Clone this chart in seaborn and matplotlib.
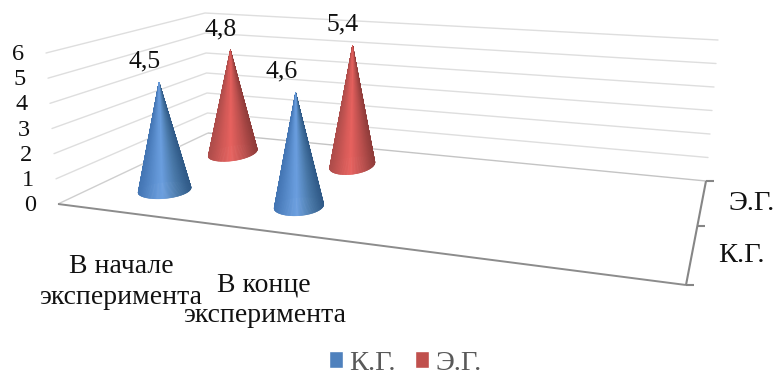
import numpy as np
import pandas as pd
import matplotlib
matplotlib.use("Agg")
import matplotlib.pyplot as plt
from matplotlib.collections import PolyCollection
from matplotlib.colors import LinearSegmentedColormap
from matplotlib.patches import Patch
import seaborn as sns

categories = ["В начале\nэксперимента", "В конце\nэксперимента"]
series_names = ["К.Г.", "Э.Г."]
control_scores = [4.5, 4.6]
experimental_scores = [4.8, 5.4]
value_ticks = [0, 1, 2, 3, 4, 5, 6]

sns.set_theme(style="white")
plt.rcParams["font.family"] = ["Liberation Serif", "DejaVu Serif"]

# Box of the 3D scene in figure pixels: (category, depth) corners at floor and ceiling.
FLOOR = {"fl": (58, 204), "fr": (686, 285), "bl": (208, 133), "br": (706, 181)}
CEIL = {"fl": (46, 53), "fr": (688, 115), "bl": (205, 13), "br": (718, 40)}
W_MAX = 6
CAT_U = [0.105, 0.333]
SERIES_V = [0.30, 0.80]
DEPTH_DIVIDER = 0.57


def bilinear(c, u, v):
    fl, fr, bl, br = (np.array(c[k], float) for k in ("fl", "fr", "bl", "br"))
    return (1 - v) * ((1 - u) * fl + u * fr) + v * ((1 - u) * bl + u * br)


def project(u, v, w):
    f = bilinear(FLOOR, u, v)
    c = bilinear(CEIL, u, v)
    return f + (c - f) * w / W_MAX


fig = plt.figure(figsize=(7.75, 3.74), dpi=100)
ax = fig.add_axes([0, 0, 1, 1])

# Gridlines run along the left wall and back wall at each value level.
rows = []
for w in value_ticks[1:]:
    for (u, v) in [(0, 0), (0, 1), (1, 1)]:
        x, y = project(u, v, w)
        rows.append({"x": x, "y": y, "level": w})
grid = pd.DataFrame(rows)
sns.lineplot(data=grid, x="x", y="y", units="level", estimator=None, sort=False,
             color="#dedede", linewidth=1.0, legend=False, ax=ax)

# Floor outline and the depth axis with its ticks.
def seg(a, b, **kw):
    ax.plot([a[0], b[0]], [a[1], b[1]], solid_capstyle="butt", **kw)

seg(project(0, 0, 0), project(0, 1, 0), color="#cfcfcf", lw=1.0)
seg(project(0, 1, 0), project(1, 1, 0), color="#c4c4c4", lw=1.0)
seg(project(0, 0, 0), project(1, 0, 0), color="#8c8c8c", lw=1.4)
seg(project(1, 0, 0), project(1, 1, 0), color="#868686", lw=1.5)
for v in [0, DEPTH_DIVIDER, 1]:
    p = project(1, v, 0)
    seg(p, p + np.array([8, 0]), color="#868686", lw=1.5)

# Cones: a fan of triangles from the apex to the base circle, shaded across the width.
blue_map = LinearSegmentedColormap.from_list(
    "blue", [(0, "#4375b3"), (0.45, "#6b9fe0"), (0.75, "#4a79a9"), (1, "#305a87")])
red_map = LinearSegmentedColormap.from_list(
    "red", [(0, "#ad4c4a"), (0.45, "#e8625f"), (0.75, "#bb504e"), (1, "#8f3c3a")])


def draw_cone(u, v, value, cmap):
    t = np.linspace(0, 2 * np.pi, 181)
    arc = np.array([project(u + 0.037 * np.cos(a), v + 0.11 * np.sin(a), 0) for a in t])
    tip = project(u, v, value)
    x0, x1 = arc[:, 0].min(), arc[:, 0].max()
    tris, cols = [], []
    order = np.argsort(arc[:-1, 1])
    for i in order:
        tris.append([tip, arc[i], arc[i + 1]])
        f = (0.5 * (arc[i, 0] + arc[i + 1, 0]) - x0) / (x1 - x0)
        cols.append(cmap(f))
    pc = PolyCollection(tris, facecolors=cols, edgecolors=cols, linewidths=0.4, zorder=3)
    ax.add_collection(pc)
    return tip


label_offsets = [(-14, -21), (-10, -21)]
series_values = [control_scores, experimental_scores]
cmaps = [blue_map, red_map]
for s in (1, 0):
    for c, val in enumerate(series_values[s]):
        tip = draw_cone(CAT_U[c], SERIES_V[s], val, cmaps[s])
        ax.text(tip[0] + label_offsets[s][0], tip[1] + label_offsets[s][1],
                f"{val:.1f}".replace(".", ","), ha="center", va="center",
                fontsize=18.5, color="#111111", zorder=4)

# Value axis labels follow the left wall edge.
for w in value_ticks:
    p = project(0, 0, w)
    ax.text(p[0] - 28, p[1] + 1.5, str(w), ha="center", va="center",
            fontsize=17.5, color="#111111")

# Category labels hang below the front floor edge.
for c, name in enumerate(categories):
    p = project(CAT_U[c], 0, 0)
    ax.text(p[0] - 3, p[1] + 69.5, name, ha="center", va="center",
            fontsize=20, linespacing=1.28, color="#111111")

# Series labels beside the depth axis.
for name, v, dx in zip(series_names, [0.28, 0.78], [50, 50]):
    p = project(1, v, 0)
    ax.text(p[0] + dx, p[1], name, ha="center", va="center",
            fontsize=20.5, color="#111111")

handles = [Patch(facecolor="#4f81bd", label=series_names[0]),
           Patch(facecolor="#c0504d", label=series_names[1])]
ax.legend(handles=handles, ncol=2, frameon=False, loc="center",
          bbox_to_anchor=(405 / 775, 1 - 363 / 374), fontsize=20.5,
          labelcolor="#595959", handlelength=0.5, handleheight=0.5,
          handletextpad=0.2, columnspacing=0.7)

ax.set_xlim(0, 775)
ax.set_ylim(374, 0)
ax.axis("off")
fig.savefig("out.png", dpi=100, facecolor="white")
